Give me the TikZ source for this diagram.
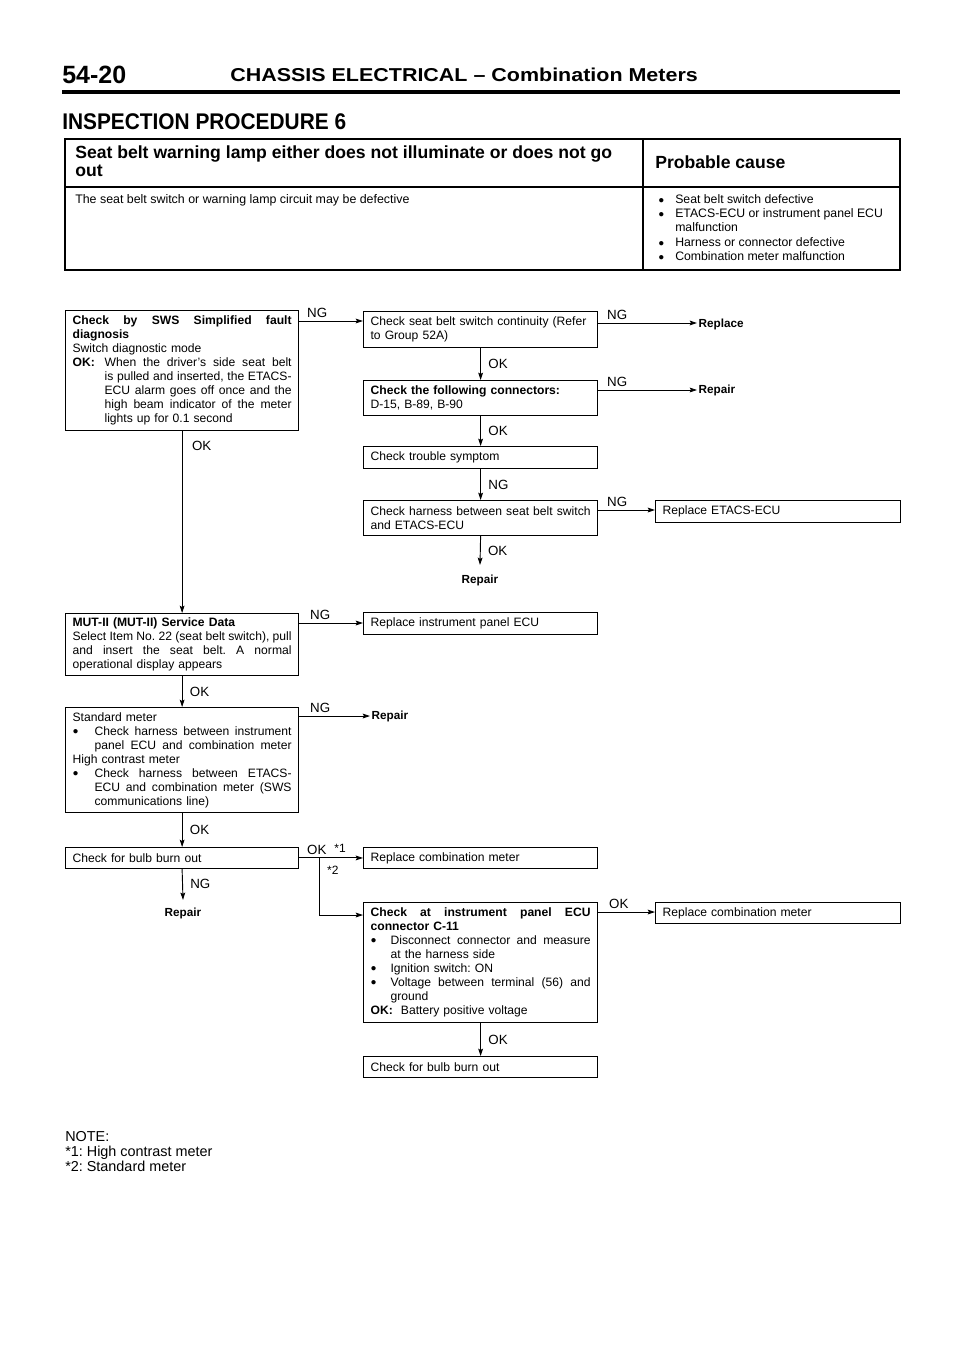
\documentclass[tikz,border=0pt]{standalone}
\usepackage{fontspec}
\setmainfont{Liberation Sans}
\usetikzlibrary{arrows.meta,calc}
\frenchspacing
\newcommand\Jl[1]{\hbox to \linewidth{\spaceskip=.278em plus 1fil minus .2em\relax #1}}
\newcommand\Rl[1]{\hbox to \linewidth{#1\hfill}}
\newcommand\dotb{\raisebox{0.6pt}{\fontsize{7.5}{8}\selectfont ●}}
\newcommand\bul[1]{\hbox to #1{\dotb\hfil}}
\newcommand\VB[1]{\vbox{#1}}
\tikzset{
  x=0.75pt, y=-0.75pt,
  box/.style={draw, line width=0.9pt, anchor=north west, inner xsep=5.25pt, inner ysep=0pt,
    font=\fontsize{9.1}{10.5}\selectfont},
  lbox/.style={box, text width=164.25pt},
  mbox/.style={box, text width=165pt},
  rbox/.style={box, text width=173.25pt},
  arr/.style={line width=0.7pt, -{Stealth[length=5.5pt,width=3.6pt,inset=1pt]}},
  lab/.style={font=\fontsize{10}{12}\selectfont, inner sep=0.5pt},
  res/.style={font=\bfseries\fontsize{8.8}{10}\selectfont, inner sep=1pt},
  txt/.style={anchor=base west, inner sep=0pt},
}
\begin{document}
\begin{tikzpicture}
\useasboundingbox (0,0) rectangle (960,1358);
% header
\node[txt, font=\bfseries\fontsize{18.75}{20}\selectfont] (pg) at (62,84) {54-20};
\node[txt, font=\bfseries\fontsize{14}{16}\selectfont] (hd) at (230,82) {\scalebox{1.15}[1]{CHASSIS ELECTRICAL -- Combination Meters}};
\draw[line width=2.3pt] (62,92) -- (900,92);
\node[txt, font=\bfseries\fontsize{17}{20}\selectfont] (ip) at (62,130) {\scalebox{0.92}[1]{INSPECTION PROCEDURE 6}};
% table
\draw[line width=0.9pt] (65,139) rectangle (900,270);
\draw[line width=0.9pt] (65,187) -- (900,187);
\draw[line width=0.9pt] (643,139) -- (643,270);
\node[txt, font=\bfseries\fontsize{13.2}{15}\selectfont] (t1) at (75,159) {Seat belt warning lamp either does not illuminate or does not go};
\node[txt, font=\bfseries\fontsize{13.2}{15}\selectfont] (t2) at (75,177) {out};
\node[txt, font=\bfseries\fontsize{13.2}{15}\selectfont] (t3) at (655,169) {Probable cause};
\node[txt, font=\fontsize{9.3}{10}\selectfont] (t4) at (75,204) {The seat belt switch or warning lamp circuit may be defective};
\begin{scope}[every node/.style={txt, font=\fontsize{9.2}{10}\selectfont}]
\node (pb1) at (658,204) {\dotb}; \node (pc1) at (675,204) {Seat belt switch defective};
\node (pb2) at (658,218) {\dotb}; \node (pc2) at (675,218) {ETACS-ECU or instrument panel ECU};
\node (pc3) at (675,232) {malfunction};
\node (pb4) at (658,247) {\dotb}; \node (pc4) at (675,247) {Harness or connector defective};
\node (pb5) at (658,261) {\dotb}; \node (pc5) at (675,261) {Combination meter malfunction};
\end{scope}
% flowchart boxes
\node[lbox, minimum height=90pt] (A) at (65,310) {\VB{%
\Jl{\textbf{Check by SWS Simplified fault}}%
\Rl{\textbf{diagnosis}}%
\Rl{Switch diagnostic mode}%
\Jl{\hbox to 24pt{\textbf{OK:}\hfil}When the driver’s side seat belt}%
\Jl{\hskip24pt is pulled and inserted, the ETACS-}%
\Jl{\hskip24pt ECU alarm goes off once and the}%
\Jl{\hskip24pt high beam indicator of the meter}%
\Rl{\hskip24pt lights up for 0.1 second}}};
\node[mbox, minimum height=27pt] (B) at (363,311) {\VB{%
\Rl{Check seat belt switch continuity (Refer}%
\Rl{to Group 52A)}}};
\node[mbox, minimum height=26.25pt] (C) at (363,380) {\VB{%
\Rl{\textbf{Check the following connectors:}}%
\Rl{D-15, B-89, B-90}}};
\node[mbox, minimum height=16.5pt] (D) at (363,446) {\VB{\Rl{Check trouble symptom}}};
\node[mbox, minimum height=26.25pt] (E) at (363,500) {\VB{%
\Jl{Check harness between seat belt switch}%
\Rl{and ETACS-ECU}}};
\node[rbox, minimum height=16.5pt] (F) at (655,500) {\VB{\Rl{Replace ETACS-ECU}}};
\node[lbox, minimum height=46.5pt] (G) at (65,613) {\VB{%
\Rl{\textbf{MUT-II (MUT-II) Service Data}}%
\Jl{Select Item No. 22 (seat belt switch), pull}%
\Jl{and insert the seat belt. A normal}%
\Rl{operational display appears}}};
\node[mbox, minimum height=16.5pt] (H) at (363,612) {\VB{\Rl{Replace instrument panel ECU}}};
\node[lbox, minimum height=78.75pt] (I) at (65,707) {\VB{%
\Rl{Standard meter}%
\Jl{\bul{16.5pt}Check harness between instrument}%
\Jl{\hskip16.5pt panel ECU and combination meter}%
\Rl{High contrast meter}%
\Jl{\bul{16.5pt}Check harness between ETACS-}%
\Jl{\hskip16.5pt ECU and combination meter (SWS}%
\Rl{\hskip16.5pt communications line)}}};
\node[lbox, minimum height=15.5pt] (J) at (65,847) {\VB{\Rl{Check for bulb burn out}}};
\node[mbox, minimum height=15.75pt] (K) at (363,847) {\VB{\Rl{Replace combination meter}}};
\node[mbox, minimum height=90pt] (L) at (363,902) {\VB{%
\Jl{\textbf{Check at instrument panel ECU}}%
\Rl{\textbf{connector C-11}}%
\Jl{\bul{15pt}Disconnect connector and measure}%
\Rl{\hskip15pt at the harness side}%
\Rl{\bul{15pt}Ignition switch: ON}%
\Jl{\bul{15pt}Voltage between terminal (56) and}%
\Rl{\hskip15pt ground}%
\Rl{\textbf{OK:}\ \ Battery positive voltage}}};
\node[rbox, minimum height=15.75pt] (M) at (655,902) {\VB{\Rl{Replace combination meter}}};
\node[mbox, minimum height=15.75pt] (N) at (363,1056) {\VB{\Rl{Check for bulb burn out}}};
% result texts
\node[res, anchor=west] (rp0) at (697,324) {Replace};
\node[res, anchor=west] (rp1) at (697,390) {Repair};
\node[res] (rp2) at (480,580) {Repair};
\node[res, anchor=west] (rp3) at (370,716) {Repair};
\node[res] (rp4) at (183,913) {Repair};
% connectors
\coordinate (a1) at ($(A.north east)+(0,11)$);
\draw[arr] (a1) -- (a1 -| B.west);
\node[lab, anchor=south west] (la1) at ($(a1)+(7,-2)$) {NG};
\coordinate (b1) at ($(B.north east)+(0,12)$);
\draw[arr] (b1) -- (b1 -| rp0.west);
\node[lab, anchor=south west] (lb1) at ($(b1)+(8,-2)$) {NG};
\coordinate (c1) at ($(C.north east)+(0,10)$);
\draw[arr, line width=0.5pt] (c1) -- (c1 -| rp1.west);
\node[lab, anchor=south west] (lc1) at ($(c1)+(8,-2)$) {NG};
\draw[arr] (B.south) -- (C.north) node[lab, midway, anchor=west, xshift=5pt] (lb2) {OK};
\draw[arr] (C.south) -- (D.north) node[lab, midway, anchor=west, xshift=5pt] (lc2) {OK};
\draw[arr] (D.south) -- (E.north) node[lab, midway, anchor=west, xshift=5pt] (ld2) {NG};
\coordinate (e1) at ($(E.north east)+(0,10)$);
\draw[arr] (e1) -- (e1 -| F.west);
\node[lab, anchor=south west] (le1) at ($(e1)+(8,-2)$) {NG};
\draw[arr] (E.south) -- ($(rp2.north)+(0,-8)$) node[lab, midway, anchor=west, xshift=5pt] (le2) {OK};
\draw[arr] (A.south) -- (G.north);
\node[lab, anchor=north west] (la2) at ($(A.south)+(9,9)$) {OK};
\coordinate (g1) at ($(G.north east)+(0,10)$);
\draw[arr] (g1) -- (g1 -| H.west);
\node[lab, anchor=south west] (lg1) at ($(g1)+(10,-2)$) {NG};
\draw[arr] (G.south) -- (I.north) node[lab, midway, anchor=west, xshift=5pt] (lg2) {OK};
\coordinate (i1) at ($(I.north east)+(0,9)$);
\draw[arr] (i1) -- (i1 -| rp3.west);
\node[lab, anchor=south west] (li1) at ($(i1)+(10,-2)$) {NG};
\draw[arr] (I.south) -- (J.north) node[lab, midway, anchor=west, xshift=5pt] (li2) {OK};
\draw[arr] (J.south) -- ($(rp4.north)+(0,-6)$) node[lab, midway, anchor=west, xshift=5pt] (lj2) {NG};
\coordinate (jn) at ($(J.east)+(20,0)$);
\draw[arr] (J.east) -- (J.east -| K.west);
\node[lab, anchor=south west] (lj1) at ($(J.east)+(7,-2)$) {OK\hspace{6pt}\raisebox{2pt}{\fontsize{9}{10}\selectfont *1}};
\coordinate (l0) at ($(L.north west)+(0,13)$);
\draw[arr] (jn) |- (l0);
\node[lab, anchor=north west, font=\fontsize{9}{10}\selectfont] (lj3) at ($(jn)+(7,7)$) {*2};
\coordinate (l1) at ($(L.north east)+(0,10)$);
\draw[arr] (l1) -- (l1 -| M.west);
\node[lab, anchor=south west] (ll1) at ($(l1)+(10,-2)$) {OK};
\draw[arr] (L.south) -- (N.north) node[lab, midway, anchor=west, xshift=5pt] (ll2) {OK};
% note
\node[txt, font=\fontsize{10.8}{12}\selectfont] (n1) at (65,1141) {NOTE:};
\node[txt, font=\fontsize{10.8}{12}\selectfont] (n2) at (65,1156) {*1: High contrast meter};
\node[txt, font=\fontsize{10.8}{12}\selectfont] (n3) at (65,1171) {*2: Standard meter};
\end{tikzpicture}
\end{document}
